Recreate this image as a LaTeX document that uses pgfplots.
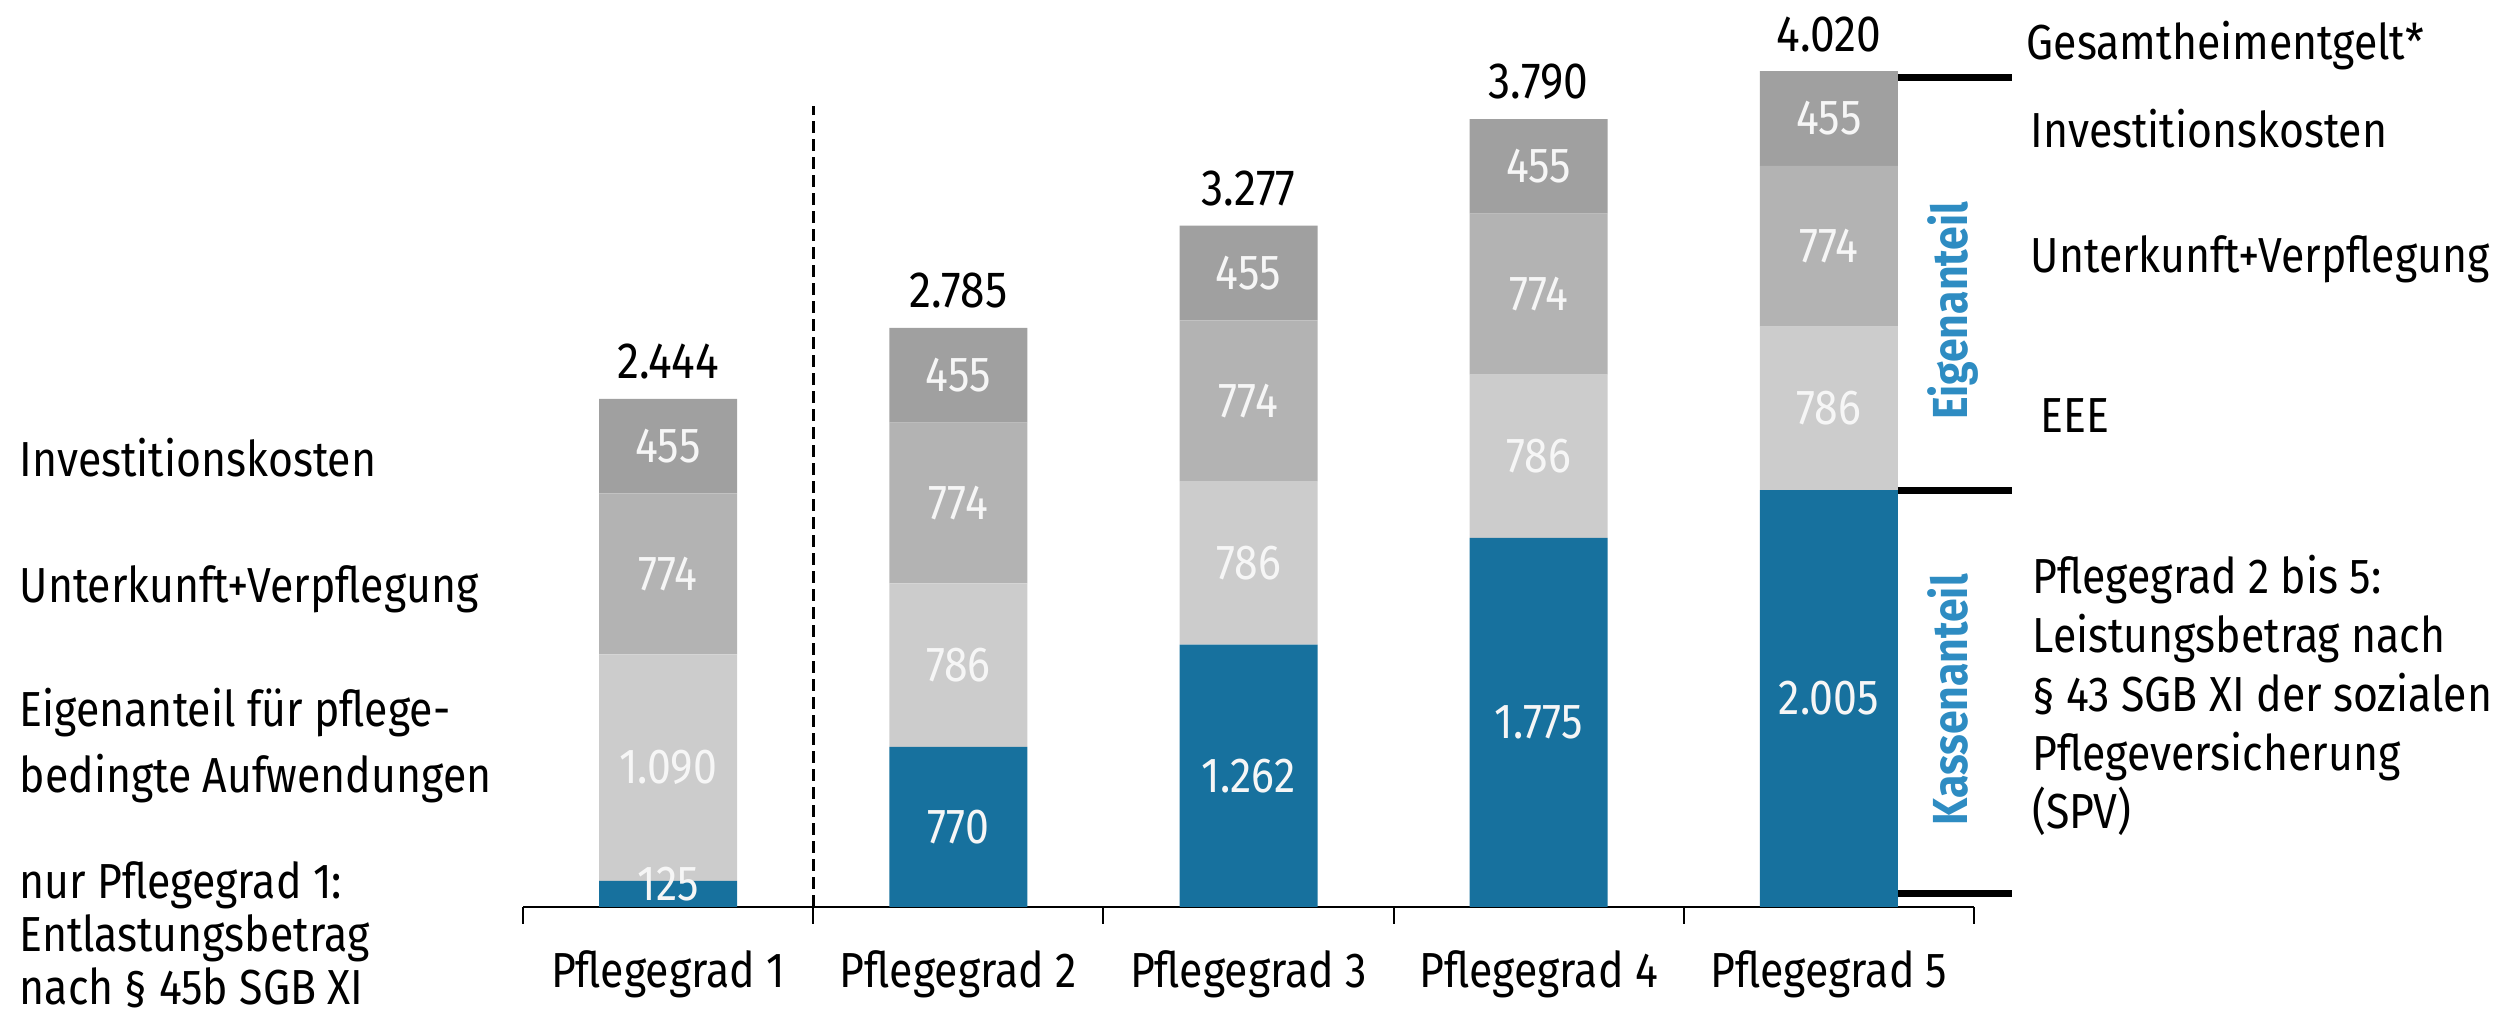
\documentclass[border=0pt]{standalone}
\usepackage{fontspec}
\setmainfont{Fira Sans}[FakeStretch=0.87]
\usepackage{pgfplots}
\pgfplotsset{compat=1.18}
\definecolor{kasse}{HTML}{17719E}
\definecolor{eee}{HTML}{CCCCCC}
\definecolor{uv}{HTML}{B3B3B3}
\definecolor{inv}{HTML}{A0A0A0}
\definecolor{lblue}{HTML}{2E8CC2}
\definecolor{numw}{HTML}{F6F6F6}
\begin{document}
\begin{tikzpicture}[font=\fontsize{14}{16}\selectfont]
\pgfplotsset{
  base/.style={at={(5.23cm,1.10cm)}, anchor=south west, scale only axis,
    width=14.51cm, height=8.94cm, xmin=-0.5, xmax=4.5, ymin=0, ymax=4300},
}
\begin{axis}[base, ybar stacked, bar width=1.38cm,
  axis x line*=bottom, axis y line=none,
  x axis line style={-, line width=0.6pt, black},
  xtick={0,1,2,3,4},
  xticklabels={Pflegegrad 1,Pflegegrad 2,Pflegegrad 3,Pflegegrad 4,Pflegegrad 5},
  major tick length=0pt,
  minor xtick={-0.5,0.5,1.5,2.5,3.5,4.5},
  minor tick length=0.17cm, tick align=outside,
  tick style={black, line width=0.6pt},
  xticklabel style={anchor=base, inner sep=0pt, yshift=-0.81cm},
  ]
\addplot[fill=kasse, draw=none] coordinates {(0,125)(1,770)(2,1262)(3,1775)(4,2005)};
\addplot[fill=eee, draw=none] coordinates {(0,1090)(1,786)(2,786)(3,786)(4,786)};
\addplot[fill=uv, draw=none] coordinates {(0,774)(1,774)(2,774)(3,774)(4,774)};
\addplot[fill=inv, draw=none] coordinates {(0,455)(1,455)(2,455)(3,455)(4,455)};
\end{axis}
\begin{axis}[base, hide axis, clip=false]
% segment value labels
\addplot[draw=none, mark=none, nodes near coords, point meta=explicit symbolic,
  nodes near coords align=center,
  every node near coord/.append style={text=numw, inner sep=0pt}]
  coordinates {
  (0,110)[125] (0,670)[1.090] (0,1602)[774] (0,2217)[455]
  (1,385)[770] (1,1163)[786] (1,1943)[774] (1,2558)[455]
  (2,631)[1.262] (2,1655)[786] (2,2435)[774] (2,3050)[455]
  (3,888)[1.775] (3,2168)[786] (3,2948)[774] (3,3563)[455]
  (4,1003)[2.005] (4,2398)[786] (4,3178)[774] (4,3793)[455]
  };
% totals
\addplot[draw=none, mark=none, nodes near coords, point meta=explicit symbolic,
  nodes near coords align=center,
  every node near coord/.append style={text=black, inner sep=0pt, font=\fontsize{14.5}{16}\selectfont}]
  coordinates {(0,2622)[2.444] (1,2963)[2.785] (2,3455)[3.277] (3,3968)[3.790] (4,4198)[4.020]};
% dashed separator
\addplot[black, line width=0.85pt, dash pattern=on 0.12cm off 0.06cm] coordinates {(0.5,0)(0.5,3852)};
% bracket lines
\addplot[black, line width=2pt] coordinates {(4.238,3990)(4.63,3990)};
\addplot[black, line width=2pt] coordinates {(4.238,2005)(4.63,2005)};
\addplot[black, line width=2pt] coordinates {(4.238,67)(4.63,67)};
\end{axis}
% rotated labels
\node[rotate=90, text=lblue, font=\fontsize{14}{16}\selectfont\bfseries, inner sep=0pt] at (19.53cm,7.06cm) {Eigenanteil};
\node[rotate=90, text=lblue, font=\fontsize{14}{16}\selectfont\bfseries, inner sep=0pt] at (19.48cm,3.17cm) {Kassenanteil};
% left labels
\begin{scope}[every node/.style={anchor=base west, inner sep=0pt}]
\node at (0.19cm,5.40cm) {Investitionskosten};
\node at (0.19cm,4.14cm) {Unterkunft+Verpflegung};
\node at (0.19cm,2.90cm) {Eigenanteil für pflege-};
\node at (0.19cm,2.24cm) {bedingte Aufwendungen};
\node at (0.19cm,1.18cm) {nur Pflegegrad 1:};
\node at (0.19cm,0.65cm) {Entlastungsbetrag};
\node at (0.19cm,0.12cm) {nach § 45b SGB XI};
% right labels
\node at (20.26cm,9.57cm) {Gesamtheimentgelt*};
\node at (20.30cm,8.69cm) {Investitionskosten};
\node at (20.30cm,7.44cm) {Unterkunft+Verpflegung};
\node at (20.40cm,5.84cm) {EEE};
\node at (20.32cm,4.23cm) {Pflegegrad 2 bis 5:};
\node at (20.32cm,3.64cm) {Leistungsbetrag nach};
\node at (20.32cm,3.05cm) {§ 43 SGB XI der sozialen};
\node at (20.32cm,2.46cm) {Pflegeversicherung};
\node at (20.32cm,1.88cm) {(SPV)};
\end{scope}
\pgfresetboundingbox
\path[use as bounding box] (0,0) rectangle (25.17cm,10.17cm);
\end{tikzpicture}
\end{document}
